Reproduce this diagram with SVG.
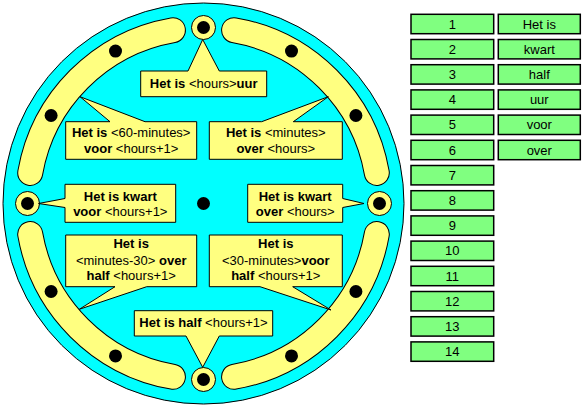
<svg xmlns="http://www.w3.org/2000/svg" width="582" height="407" viewBox="0 0 582 407">
<style>
text{font-family:"Liberation Sans",Arial,sans-serif;fill:#000}
.c{font-size:13px;text-anchor:middle}
.b{font-weight:bold}
.call{fill:#FFFF80;stroke:#000;stroke-width:1}
.bandO{fill:none;stroke:#000;stroke-width:26;stroke-linecap:round}
.bandI{fill:none;stroke:#FFFF80;stroke-width:24;stroke-linecap:round}
.dot{fill:#000}
.ring{fill:#FFFF80;stroke:#000;stroke-width:1}
.g{fill:#80FF80;stroke:#000;stroke-width:1.5}
.gt{font-size:13px;text-anchor:middle}
</style>
<rect width="582" height="407" fill="#fff"/>
<g id="dial">
<circle cx="203.5" cy="203.5" r="200.5" fill="#00FFFF" stroke="#000" stroke-width="1"/>
<path class="bandO" d="M30.2,172.9 A176,176 0 0 1 172.9,30.2"/>
<path class="bandO" d="M234.1,30.2 A176,176 0 0 1 376.8,172.9"/>
<path class="bandO" d="M376.8,234.1 A176,176 0 0 1 234.1,376.8"/>
<path class="bandO" d="M172.9,376.8 A176,176 0 0 1 30.2,234.1"/>
<path class="bandI" d="M30.2,172.9 A176,176 0 0 1 172.9,30.2"/>
<path class="bandI" d="M234.1,30.2 A176,176 0 0 1 376.8,172.9"/>
<path class="bandI" d="M376.8,234.1 A176,176 0 0 1 234.1,376.8"/>
<path class="bandI" d="M172.9,376.8 A176,176 0 0 1 30.2,234.1"/>
<circle class="dot" cx="51.1" cy="115.5" r="6.5"/>
<circle class="dot" cx="115.5" cy="51.1" r="6.5"/>
<circle class="dot" cx="291.5" cy="51.1" r="6.5"/>
<circle class="dot" cx="355.9" cy="115.5" r="6.5"/>
<circle class="dot" cx="355.9" cy="291.5" r="6.5"/>
<circle class="dot" cx="291.5" cy="355.9" r="6.5"/>
<circle class="dot" cx="115.5" cy="355.9" r="6.5"/>
<circle class="dot" cx="51.1" cy="291.5" r="6.5"/>
<circle class="ring" cx="203.5" cy="27.5" r="12"/>
<circle class="dot" cx="203.5" cy="27.5" r="6.5"/>
<circle class="ring" cx="379.5" cy="203.5" r="12"/>
<circle class="dot" cx="379.5" cy="203.5" r="6.5"/>
<circle class="ring" cx="203.5" cy="379.5" r="12"/>
<circle class="dot" cx="203.5" cy="379.5" r="6.5"/>
<circle class="ring" cx="27.5" cy="203.5" r="12"/>
<circle class="dot" cx="27.5" cy="203.5" r="6.5"/>
<circle class="dot" cx="203.5" cy="203.5" r="6.5"/>
</g>
<g id="callout-uur">
<path class="call" d="M140.7,71 H188 L202.7,39.5 L219.3,71 H266.7 V96.7 H140.7 Z"/>
<text class="c" x="203.7" y="88"><tspan class="b">Het is </tspan>&lt;hours&gt;<tspan class="b">uur</tspan></text>
</g>
<g id="callout-voor">
<path class="call" d="M65.7,121.7 H110 L80,96.7 L145,121.7 H196.7 V159.3 H65.7 Z"/>
<text class="c" x="131.2" y="136.5"><tspan class="b">Het is</tspan> &lt;60-minutes&gt;</text>
<text class="c" x="131.2" y="153"><tspan class="b">voor</tspan> &lt;hours+1&gt;</text>
</g>
<g id="callout-over">
<path class="call" d="M209.3,121.7 H261.7 L328.3,96.7 L293.3,121.7 H342.3 V159.3 H209.3 Z"/>
<text class="c" x="275.8" y="136.5"><tspan class="b">Het is</tspan> &lt;minutes&gt;</text>
<text class="c" x="275.8" y="153"><tspan class="b">over</tspan> &lt;hours&gt;</text>
</g>
<g id="callout-kwart-voor">
<path class="call" d="M65,184.3 H175.7 V222.3 H65 V207.5 L38.5,203.5 L65,198.5 Z"/>
<text class="c b" x="120.3" y="200.5">Het is kwart</text>
<text class="c" x="120.3" y="215.5"><tspan class="b">voor</tspan> &lt;hours+1&gt;</text>
</g>
<g id="callout-kwart-over">
<path class="call" d="M247.7,184.3 H342.7 V198.5 L364,203.5 L342.7,207.5 V222.3 H247.7 Z"/>
<text class="c b" x="295.2" y="200.5">Het is kwart</text>
<text class="c" x="295.2" y="215.5"><tspan class="b">over</tspan> &lt;hours&gt;</text>
</g>
<g id="callout-over-half">
<path class="call" d="M65.7,235 H196.7 V286.7 H146.7 L79.3,309.3 L115,286.7 H65.7 Z"/>
<text class="c b" x="131.2" y="248">Het is</text>
<text class="c" x="131.2" y="264.5">&lt;minutes-30&gt; <tspan class="b">over</tspan></text>
<text class="c" x="131.2" y="280"><tspan class="b">half</tspan> &lt;hours+1&gt;</text>
</g>
<g id="callout-voor-half">
<path class="call" d="M209.3,235 H342.3 V286.7 H292.7 L331,310 L260,286.7 H209.3 Z"/>
<text class="c b" x="275.8" y="248">Het is</text>
<text class="c" x="275.8" y="264.5">&lt;30-minutes&gt;<tspan class="b">voor</tspan></text>
<text class="c" x="275.8" y="280"><tspan class="b">half</tspan> &lt;hours+1&gt;</text>
</g>
<g id="callout-half">
<path class="call" d="M134.3,310.7 H272.7 V336 H219.3 L202.7,367.3 L186,336 H134.3 Z"/>
<text class="c" x="203.5" y="326.5"><tspan class="b">Het is half</tspan> &lt;hours+1&gt;</text>
</g>
<g id="numbers">
<g id="n1"><rect class="g" x="411" y="14.3" width="82.7" height="19.4"/><text class="gt" x="452.3" y="28.5">1</text></g>
<g id="n2"><rect class="g" x="411" y="39.5" width="82.7" height="19.4"/><text class="gt" x="452.3" y="53.7">2</text></g>
<g id="n3"><rect class="g" x="411" y="64.7" width="82.7" height="19.4"/><text class="gt" x="452.3" y="78.9">3</text></g>
<g id="n4"><rect class="g" x="411" y="89.9" width="82.7" height="19.4"/><text class="gt" x="452.3" y="104.1">4</text></g>
<g id="n5"><rect class="g" x="411" y="115.1" width="82.7" height="19.4"/><text class="gt" x="452.3" y="129.3">5</text></g>
<g id="n6"><rect class="g" x="411" y="140.3" width="82.7" height="19.4"/><text class="gt" x="452.3" y="154.5">6</text></g>
<g id="n7"><rect class="g" x="411" y="165.5" width="82.7" height="19.4"/><text class="gt" x="452.3" y="179.7">7</text></g>
<g id="n8"><rect class="g" x="411" y="190.7" width="82.7" height="19.4"/><text class="gt" x="452.3" y="204.9">8</text></g>
<g id="n9"><rect class="g" x="411" y="215.9" width="82.7" height="19.4"/><text class="gt" x="452.3" y="230.1">9</text></g>
<g id="n10"><rect class="g" x="411" y="241.1" width="82.7" height="19.4"/><text class="gt" x="452.3" y="255.3">10</text></g>
<g id="n11"><rect class="g" x="411" y="266.3" width="82.7" height="19.4"/><text class="gt" x="452.3" y="280.5">11</text></g>
<g id="n12"><rect class="g" x="411" y="291.5" width="82.7" height="19.4"/><text class="gt" x="452.3" y="305.7">12</text></g>
<g id="n13"><rect class="g" x="411" y="316.7" width="82.7" height="19.4"/><text class="gt" x="452.3" y="330.9">13</text></g>
<g id="n14"><rect class="g" x="411" y="341.9" width="82.7" height="19.4"/><text class="gt" x="452.3" y="356.1">14</text></g>
</g>
<g id="words">
<g id="w1"><rect class="g" x="498.3" y="14.3" width="82" height="19.4"/><text class="gt" x="539.3" y="28.5">Het is</text></g>
<g id="w2"><rect class="g" x="498.3" y="39.5" width="82" height="19.4"/><text class="gt" x="539.3" y="53.7">kwart</text></g>
<g id="w3"><rect class="g" x="498.3" y="64.7" width="82" height="19.4"/><text class="gt" x="539.3" y="78.9">half</text></g>
<g id="w4"><rect class="g" x="498.3" y="89.9" width="82" height="19.4"/><text class="gt" x="539.3" y="104.1">uur</text></g>
<g id="w5"><rect class="g" x="498.3" y="115.1" width="82" height="19.4"/><text class="gt" x="539.3" y="129.3">voor</text></g>
<g id="w6"><rect class="g" x="498.3" y="140.3" width="82" height="19.4"/><text class="gt" x="539.3" y="154.5">over</text></g>
</g>
</svg>
